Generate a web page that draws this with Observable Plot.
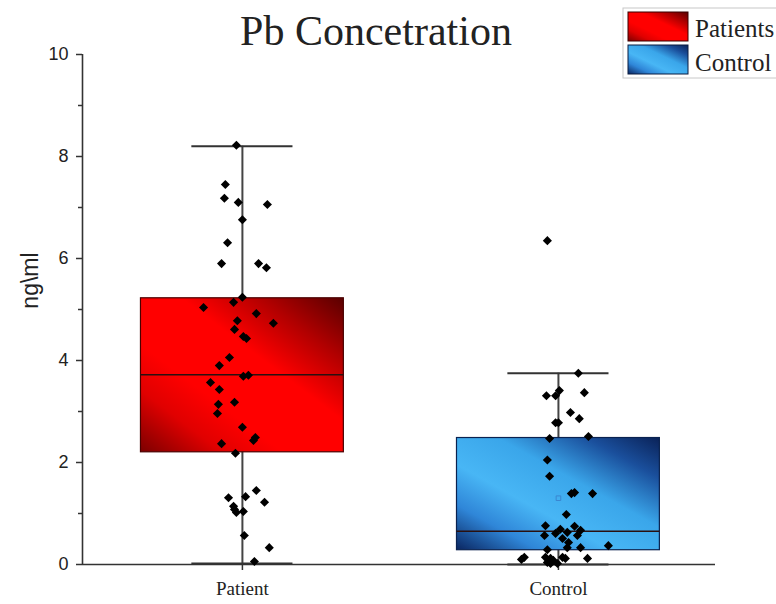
<!DOCTYPE html>
<html>
<head>
<meta charset="utf-8">
<script src="https://cdn.jsdelivr.net/npm/d3@7"></script>
<script src="https://cdn.jsdelivr.net/npm/@observablehq/plot@0.6"></script>
<style>
  body { margin: 0; background: #fff; }
  #wrap { position: relative; width: 776px; height: 604px; overflow: hidden; }
</style>
</head>
<body>
<div id="wrap"></div>
<script>
// ---- data ----
const title = "Pb Concetration";
const yLabel = "ng\\ml";
const categories = ["Patient", "Control"];
const legendLabels = ["Patients", "Control"];
const yTicks = [0, 2, 4, 6, 8, 10];
const yMinorTicks = [1, 3, 5, 7, 9];

const q1 = [2.2, 0.28];
const median = [3.72, 0.65];
const q3 = [5.22, 2.48];
const whiskerLow = [0.02, 0.0];
const whiskerHigh = [8.2, 3.75];
const mean = [null, 1.3];

// jittered points: x position (category 1 / 2 plus jitter) and value
const patientX = [0.981, 0.946, 0.943, 0.987, 1.079, 1.000, 0.953, 0.934, 1.051, 1.076,
  1.000, 0.877, 0.972, 1.044, 1.098, 0.984, 0.975, 1.003, 1.013, 0.959,
  0.927, 1.003, 1.019, 0.899, 0.927, 0.975, 0.924, 0.921, 1.000, 1.041,
  1.035, 0.934, 0.978, 1.044, 1.010, 0.956, 1.070, 0.972, 0.975, 1.003,
  0.981, 1.006, 1.085, 1.038];
const patientValues = [8.22, 7.45, 7.18, 7.10, 7.06, 6.76, 6.31, 5.90, 5.90, 5.82,
  5.24, 5.04, 5.14, 4.92, 4.73, 4.78, 4.61, 4.47, 4.43, 4.06,
  3.90, 3.69, 3.71, 3.57, 3.43, 3.18, 3.14, 2.96, 2.69, 2.49,
  2.43, 2.37, 2.18, 1.45, 1.33, 1.31, 1.22, 1.14, 1.08, 1.04,
  1.02, 0.57, 0.33, 0.06];
const controlX = [1.965, 2.063, 2.003, 1.962, 1.991, 2.082, 2.038, 2.066, 1.991, 2.000,
  1.972, 2.095, 1.965, 1.972, 2.041, 2.051, 2.108, 2.025, 1.959, 2.051,
  2.070, 2.006, 1.956, 1.991, 2.028, 2.060, 2.013, 2.032, 2.070, 2.158,
  2.028, 1.965, 1.892, 1.883, 1.959, 1.975, 1.984, 2.013, 2.022, 1.965,
  1.975, 2.092, 1.997];
const controlValues = [6.35, 3.75, 3.41, 3.31, 3.31, 3.37, 2.98, 2.86, 2.78, 2.78,
  2.47, 2.51, 2.05, 1.73, 1.39, 1.41, 1.39, 0.98, 0.76, 0.75,
  0.67, 0.69, 0.57, 0.61, 0.63, 0.57, 0.51, 0.43, 0.33, 0.37,
  0.33, 0.29, 0.14, 0.10, 0.14, 0.12, 0.08, 0.14, 0.12, 0.04,
  0.02, 0.12, 0.02];

// ---- derived tables ----
const boxHalf = 0.321, capHalf = 0.16;
const xDomain = [0.494, 2.497];
const boxes = categories.map((c, i) => ({
  cat: c, pos: i + 1, q1: q1[i], med: median[i], q3: q3[i],
  lo: whiskerLow[i], hi: whiskerHigh[i], mean: mean[i],
  fill: `url(#grad${i})`, stroke: i === 0 ? "#4a0000" : "#0a2250"
}));
const points = [
  ...patientValues.map((v, i) => ({x: patientX[i], y: v})),
  ...controlValues.map((v, i) => ({x: controlX[i], y: v}))
];
const means = boxes.filter(b => b.mean != null);

const plot = Plot.plot({
  width: 776, height: 604,
  marginLeft: 82, marginRight: 61, marginTop: 54, marginBottom: 40,
  x: {domain: xDomain},
  y: {domain: [0, 10]},
  color: {type: "identity"},
  style: {background: "white", color: "#222", overflow: "visible"},
  marks: [
    Plot.axisY({ticks: yTicks, tickSize: 6, tickPadding: 8, fontSize: 18,
      fontFamily: "Liberation Sans", label: null, stroke: "#333", strokeWidth: 1.5}),
    Plot.axisY({ticks: yMinorTicks, tickSize: 4, tickFormat: () => "", label: null, stroke: "#333", strokeWidth: 1.5}),
    Plot.axisX({ticks: [1, 2], tickFormat: d => categories[d - 1], tickSize: 6, tickPadding: 11,
      fontSize: 19, fontFamily: "Liberation Serif", label: null, stroke: "#333", strokeWidth: 1.5}),
    Plot.text([yLabel], {frameAnchor: "left", dx: -52, dy: -29, rotate: -90, fontSize: 23,
      fontFamily: "Liberation Sans", textAnchor: "middle", lineAnchor: "middle", fill: "#222"}),
    Plot.ruleX([xDomain[0]], {y1: 0, y2: 10, stroke: "#333", strokeWidth: 1.6}),
    Plot.ruleY([0], {x1: xDomain[0], x2: xDomain[1], stroke: "#333", strokeWidth: 1.6}),
    // whiskers
    Plot.ruleX(boxes, {x: "pos", y1: "lo", y2: "hi", stroke: "#444", strokeWidth: 2}),
    Plot.ruleY(boxes, {y: "hi", x1: d => d.pos - capHalf, x2: d => d.pos + capHalf, stroke: "#333", strokeWidth: 2}),
    Plot.ruleY(boxes, {y: "lo", x1: d => d.pos - capHalf, x2: d => d.pos + capHalf, stroke: "#333", strokeWidth: 2}),
    // boxes
    Plot.rect(boxes, {x1: d => d.pos - boxHalf, x2: d => d.pos + boxHalf, y1: "q1", y2: "q3",
      fill: "fill", stroke: "stroke", strokeWidth: 1.2}),
    Plot.ruleY(boxes, {y: "med", x1: d => d.pos - boxHalf, x2: d => d.pos + boxHalf, stroke: "#2a1010", strokeWidth: 1.5}),
    // points
    Plot.dot(points, {x: "x", y: "y", symbol: "diamond2", r: 4.1, fill: "#000", stroke: "none"}),
    Plot.dot(means, {x: "pos", y: "mean", symbol: "square", r: 2.6, fill: "none", stroke: "#3a86d0", strokeWidth: 1})
  ]
});

const svg = d3.select(plot);
const defs = svg.insert("defs", ":first-child");
const g0 = defs.append("linearGradient").attr("id", "grad0")
  .attr("x1", 0).attr("y1", 1).attr("x2", 1).attr("y2", 0);
[[0, "#7c0000"], [0.2, "#e00000"], [0.35, "#ff0000"], [0.6, "#ff0000"], [0.8, "#b00000"], [1, "#5a0000"]]
  .forEach(([o, c]) => g0.append("stop").attr("offset", o).attr("stop-color", c));
const g1 = defs.append("linearGradient").attr("id", "grad1")
  .attr("x1", 0).attr("y1", 1).attr("x2", 1).attr("y2", 0);
[[0, "#0a2560"], [0.2, "#2f86d8"], [0.38, "#48b6f5"], [0.6, "#3aa6ea"], [0.82, "#1a4f9c"], [1, "#0a2258"]]
  .forEach(([o, c]) => g1.append("stop").attr("offset", o).attr("stop-color", c));

// title
svg.append("text").attr("x", 376).attr("y", 45).attr("text-anchor", "middle")
  .attr("font-family", "Liberation Serif").attr("font-size", 42).attr("fill", "#222").text(title);

// legend
const lg = svg.append("g");
lg.append("rect").attr("x", 623).attr("y", 8).attr("width", 170).attr("height", 70)
  .attr("fill", "white").attr("stroke", "#c8c8c8");
legendLabels.forEach((lab, i) => {
  lg.append("rect").attr("x", 628).attr("y", 12 + i * 33).attr("width", 60).attr("height", 29)
    .attr("fill", `url(#grad${i})`).attr("stroke", i === 0 ? "#3a0000" : "#0a1c40").attr("stroke-width", 1);
  lg.append("text").attr("x", 695).attr("y", 37 + i * 34).attr("text-anchor", "start")
    .attr("font-family", "Liberation Serif").attr("font-size", 25).attr("fill", "#222").text(lab);
});

document.getElementById("wrap").appendChild(plot);
</script>
</body>
</html>
